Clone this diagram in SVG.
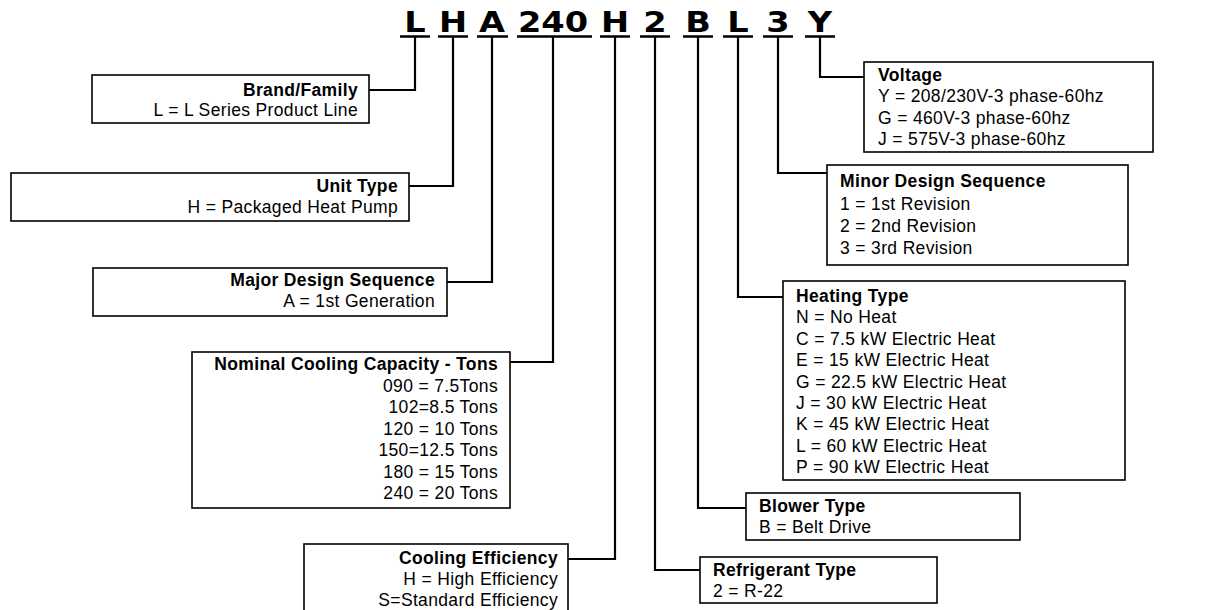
<svg xmlns="http://www.w3.org/2000/svg" width="1215" height="610" viewBox="0 0 1215 610">
<style>
.code{font-family:"DejaVu Sans",Verdana,sans-serif;font-weight:bold;font-size:28px;fill:#000;text-anchor:middle}
.ul{stroke:#000;stroke-width:2.5;fill:none}
.box{fill:#fff;stroke:#000;stroke-width:1.6}
.conn{stroke:#000;stroke-width:2.2;fill:none}
.t{font-family:"Liberation Sans",Arial,sans-serif;font-size:17.5px;letter-spacing:0.35px;fill:#000}
.b{font-weight:bold}
.r{text-anchor:end}
</style>
<rect width="1215" height="610" fill="#fff"/>
<g id="code">
<text class="code" transform="translate(415,32) scale(1.2,1)">L</text>
<text class="code" transform="translate(453,32) scale(1.2,1)">H</text>
<text class="code" transform="translate(492,32) scale(1.2,1)">A</text>
<text class="code" transform="translate(553,32) scale(1.2,1)">240</text>
<text class="code" transform="translate(615,32) scale(1.2,1)">H</text>
<text class="code" transform="translate(655,32) scale(1.2,1)">2</text>
<text class="code" transform="translate(698,32) scale(1.2,1)">B</text>
<text class="code" transform="translate(738,32) scale(1.2,1)">L</text>
<text class="code" transform="translate(778,32) scale(1.2,1)">3</text>
<text class="code" transform="translate(820,32) scale(1.2,1)">Y</text>
<path class="ul" d="M400 36.5h30M438 36.5h30M477 36.5h31M517 36.5h75M600 36.5h30M640 36.5h30M683 36.5h30M723 36.5h30M763 36.5h30M805 36.5h30"/>
</g>
<g id="connectors">
<polyline class="conn" points="415,36 415,90 369,90"/>
<polyline class="conn" points="453,36 453,186 409,186"/>
<polyline class="conn" points="492,36 492,282 447,282"/>
<polyline class="conn" points="553,36 553,362 510,362"/>
<polyline class="conn" points="615,36 615,559 568,559"/>
<polyline class="conn" points="655,36 655,570 700,570"/>
<polyline class="conn" points="698,36 698,508 746,508"/>
<polyline class="conn" points="738,36 738,297 783,297"/>
<polyline class="conn" points="778,36 778,173 827,173"/>
<polyline class="conn" points="820,36 820,77 864,77"/>
</g>
<g id="brand">
<rect class="box" x="92" y="75" width="277" height="48"/>
<text class="t b r" x="358" y="96">Brand/Family</text>
<text class="t r" x="358" y="116">L = L Series Product Line</text>
</g>
<g id="unit-type">
<rect class="box" x="11" y="173" width="398" height="48"/>
<text class="t b r" x="398" y="192">Unit Type</text>
<text class="t r" x="398" y="213">H = Packaged Heat Pump</text>
</g>
<g id="major">
<rect class="box" x="93" y="268" width="354" height="48"/>
<text class="t b r" x="435" y="286">Major Design Sequence</text>
<text class="t r" x="435" y="307">A = 1st Generation</text>
</g>
<g id="capacity">
<rect class="box" x="192" y="352" width="318" height="156"/>
<text class="t b r" x="498" y="370">Nominal Cooling Capacity - Tons</text>
<text class="t r" x="498" y="392">090 = 7.5Tons</text>
<text class="t r" x="498" y="413">102=8.5 Tons</text>
<text class="t r" x="498" y="435">120 = 10 Tons</text>
<text class="t r" x="498" y="456">150=12.5 Tons</text>
<text class="t r" x="498" y="478">180 = 15 Tons</text>
<text class="t r" x="498" y="499">240 = 20 Tons</text>
</g>
<g id="efficiency">
<rect class="box" x="304" y="544" width="264" height="80"/>
<text class="t b r" x="558" y="564">Cooling Efficiency</text>
<text class="t r" x="558" y="585">H = High Efficiency</text>
<text class="t r" x="558" y="606">S=Standard Efficiency</text>
</g>
<g id="refrigerant">
<rect class="box" x="700" y="557" width="237" height="46"/>
<text class="t b" x="713" y="576">Refrigerant Type</text>
<text class="t" x="713" y="597">2 = R-22</text>
</g>
<g id="blower">
<rect class="box" x="746" y="493" width="274" height="47"/>
<text class="t b" x="759" y="512">Blower Type</text>
<text class="t" x="759" y="533">B = Belt Drive</text>
</g>
<g id="heating">
<rect class="box" x="783" y="281" width="342" height="199"/>
<text class="t b" x="796" y="302">Heating Type</text>
<text class="t" x="796" y="323">N = No Heat</text>
<text class="t" x="796" y="345">C = 7.5 kW Electric Heat</text>
<text class="t" x="796" y="366">E = 15 kW Electric Heat</text>
<text class="t" x="796" y="388">G = 22.5 kW Electric Heat</text>
<text class="t" x="796" y="409">J = 30 kW Electric Heat</text>
<text class="t" x="796" y="430">K = 45 kW Electric Heat</text>
<text class="t" x="796" y="452">L = 60 kW Electric Heat</text>
<text class="t" x="796" y="473">P = 90 kW Electric Heat</text>
</g>
<g id="minor">
<rect class="box" x="827" y="165" width="301" height="100"/>
<text class="t b" x="840" y="187">Minor Design Sequence</text>
<text class="t" x="840" y="210">1 = 1st Revision</text>
<text class="t" x="840" y="232">2 = 2nd Revision</text>
<text class="t" x="840" y="254">3 = 3rd Revision</text>
</g>
<g id="voltage">
<rect class="box" x="864" y="62" width="289" height="90"/>
<text class="t b" x="878" y="81">Voltage</text>
<text class="t" x="878" y="102">Y = 208/230V-3 phase-60hz</text>
<text class="t" x="878" y="124">G = 460V-3 phase-60hz</text>
<text class="t" x="878" y="145">J = 575V-3 phase-60hz</text>
</g>
</svg>
